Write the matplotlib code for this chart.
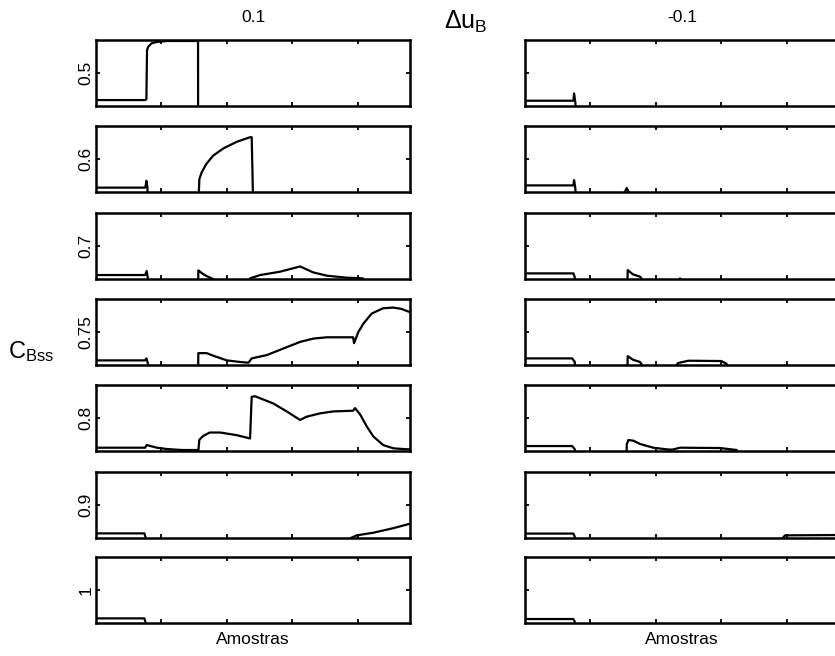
import matplotlib
matplotlib.use("Agg")
import matplotlib.pyplot as plt

plt.rcParams['font.family'] = ['Liberation Sans', 'DejaVu Sans']
plt.rcParams['mathtext.fontset'] = 'custom'
plt.rcParams['mathtext.rm'] = 'Liberation Sans'
plt.rcParams['mathtext.it'] = 'Liberation Sans'

column_titles = ["0.1", "-0.1"]
row_labels = ["0.5", "0.6", "0.7", "0.75", "0.8", "0.9", "1"]
x_label = "Amostras"
x_ticks = [100, 200, 300, 400]
x_max = 480

# left column (delta u_B = 0.1): samples and normalized response
L1_x = [0, 75, 77, 78, 80, 85, 93, 108, 154, 156, 156.1, 480]
L1_y = [0.09, 0.09, 0.10, 0.85, 0.90, 0.95, 0.97, 0.985, 0.985, 0.985, -0.5, -0.5]
L2_x = [0, 75, 76, 77, 78.5, 80, 156, 158, 161.6, 169, 179, 194.6, 215, 235.5, 238, 240.5, 480]
L2_y = [0.066, 0.066, 0.10, 0.17, 0.08, -0.3, -0.3, 0.195, 0.30, 0.43, 0.55, 0.66, 0.76, 0.83, 0.83, -0.3, -0.3]
L3_x = [0, 75, 77.5, 79.5, 81, 156, 156.4, 163, 169, 179, 185, 230, 235.5, 251, 281, 312, 332, 353, 383, 408, 415, 480]
L3_y = [0.06, 0.06, 0.12, 0.0, -0.3, -0.3, 0.13, 0.08, 0.045, 0.0, -0.3, -0.3, 0.01, 0.06, 0.11, 0.19, 0.10, 0.05, 0.02, 0.01, -0.3, -0.3]
L4_x = [0, 75, 77, 80, 82, 156, 156.4, 169, 179.4, 200, 220, 233, 238, 261, 291.5, 312, 332, 353, 393, 394.5, 401, 409, 421.5, 439, 454.5, 467, 480]
L4_y = [0.07, 0.07, 0.10, 0.0, -0.3, -0.3, 0.18, 0.18, 0.14, 0.07, 0.046, 0.035, 0.10, 0.15, 0.27, 0.35, 0.40, 0.42, 0.42, 0.33, 0.50, 0.63, 0.78, 0.86, 0.87, 0.85, 0.80]
L5_x = [0, 75, 77.5, 93, 108, 131, 156, 156.4, 158, 164, 174, 190, 215, 235.5, 238, 243, 271, 291.5, 312, 322, 342.5, 363, 393, 396, 404, 414, 424, 439, 455, 477.5, 480]
L5_y = [0.05, 0.05, 0.09, 0.05, 0.03, 0.015, 0.015, 0.0, 0.17, 0.23, 0.28, 0.28, 0.24, 0.19, 0.82, 0.83, 0.72, 0.60, 0.47, 0.52, 0.57, 0.60, 0.61, 0.65, 0.55, 0.37, 0.22, 0.09, 0.04, 0.025, 0.025]
L6_x = [0, 74, 76, 78, 350, 385, 398.5, 424, 455, 477.5, 480]
L6_y = [0.07, 0.07, 0.0, -0.3, -0.3, -0.02, 0.04, 0.08, 0.15, 0.21, 0.215]
L7_x = [0, 74, 76, 78, 480]
L7_y = [0.07, 0.07, 0.0, -0.3, -0.3]

# right column (delta u_B = -0.1)
R1_x = [0, 74, 75, 76, 77, 79, 480]
R1_y = [0.08, 0.08, 0.19, 0.12, 0.05, -0.3, -0.3]
R2_x = [0, 74, 75, 76, 77, 79, 150, 155.5, 161, 480]
R2_y = [0.10, 0.10, 0.18, 0.12, 0.05, -0.3, -0.05, 0.06, -0.05, -0.3]
R3_x = [0, 74, 76, 78, 156, 157, 165, 176, 185, 230, 237, 244, 480]
R3_y = [0.085, 0.085, 0.03, -0.3, -0.3, 0.135, 0.07, 0.035, -0.1, -0.1, 0.01, -0.1, -0.3]
R4_x = [0, 72, 76, 78, 156, 157, 165, 176, 185, 225, 234, 250, 300, 308, 312, 480]
R4_y = [0.10, 0.10, 0.05, -0.3, -0.3, 0.135, 0.08, 0.045, -0.1, -0.1, 0.03, 0.065, 0.06, 0.02, -0.1, -0.3]
R5_x = [0, 72, 76, 78, 155, 155.5, 158, 166, 176, 196, 216.6, 225, 237, 298, 323.7, 330, 480]
R5_y = [0.075, 0.075, 0.03, -0.3, -0.3, 0.10, 0.167, 0.155, 0.106, 0.05, 0.025, 0.02, 0.05, 0.045, 0.015, -0.3, -0.3]
R6_x = [0, 74, 76, 78, 385, 397.5, 480]
R6_y = [0.067, 0.067, 0.02, -0.3, -0.1, 0.04, 0.045]
R7_x = [0, 74, 76, 78, 480]
R7_y = [0.06, 0.06, 0.02, -0.3, -0.3]

left_series = [(L1_x, L1_y), (L2_x, L2_y), (L3_x, L3_y), (L4_x, L4_y),
               (L5_x, L5_y), (L6_x, L6_y), (L7_x, L7_y)]
right_series = [(R1_x, R1_y), (R2_x, R2_y), (R3_x, R3_y), (R4_x, R4_y),
                (R5_x, R5_y), (R6_x, R6_y), (R7_x, R7_y)]

W, H = 835, 656
fig = plt.figure(figsize=(W / 100, H / 100), dpi=100)

col_left_px = [96, 525]
ax_w_px = 314
ax_h_px = 66
row_top_px = [40, 126, 213, 299, 385, 472, 557]
FS = 12.5


def style(ax):
    ax.set_xlim(0, x_max)
    ax.set_ylim(0, 1)
    ax.set_xticks(x_ticks)
    ax.set_yticks([0.5])
    ax.tick_params(direction='in', top=True, right=True, length=3, width=1.3,
                   labelbottom=False, labelleft=False)
    for s in ax.spines.values():
        s.set_linewidth(1.8)


for c, series in enumerate([left_series, right_series]):
    for r, (xs, ys) in enumerate(series):
        x0 = col_left_px[c] / W
        y0 = 1 - (row_top_px[r] + ax_h_px) / H
        ax = fig.add_axes([x0, y0, ax_w_px / W, ax_h_px / H])
        style(ax)
        ax.plot(xs, ys, color='black', lw=1.6, solid_joinstyle='round')
        if c == 0:
            ax.text(-0.008, 0.5, row_labels[r], transform=ax.transAxes,
                    rotation=90, ha='right', va='center', fontsize=FS)
        if r == 0:
            ax.text(0.5, 1.0 + 23 / ax_h_px, column_titles[c], transform=ax.transAxes,
                    ha='center', va='center', fontsize=FS)
        if r == len(series) - 1:
            ax.text(0.5, -17 / ax_h_px, x_label, transform=ax.transAxes,
                    ha='center', va='center', fontsize=FS)

fig.text(466 / W, 1 - 22 / H, r'$\mathregular{\Delta u_B}$', ha='center', va='center', fontsize=18)
fig.text(31 / W, 1 - 352 / H, r'$\mathregular{C_{Bss}}$', ha='center', va='center', fontsize=17)

fig.savefig('out.png', dpi=100)
